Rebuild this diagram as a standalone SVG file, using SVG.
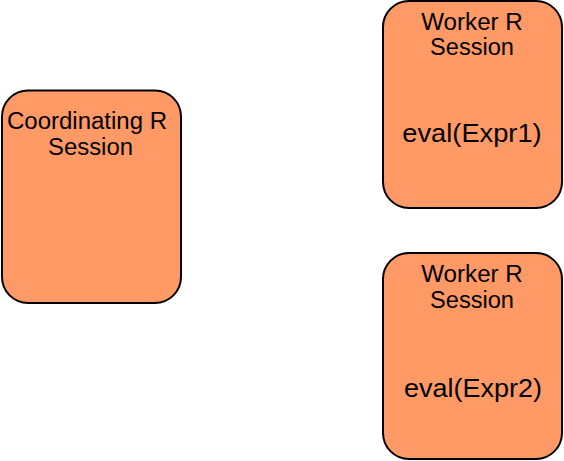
<svg xmlns="http://www.w3.org/2000/svg" width="564" height="461" viewBox="0 0 564 461">
<style>
.box{fill:#ff9966;stroke:#000;stroke-width:2}
.t{font-family:"Liberation Sans",Arial,sans-serif;font-size:23px;fill:#000;text-anchor:middle}
.e{font-family:"Liberation Sans",Arial,sans-serif;font-size:26px;fill:#000;text-anchor:middle}
</style>
<rect width="564" height="461" fill="#fff"/>
<g id="coord">
<rect class="box" x="2" y="90.5" width="179" height="212.5" rx="26" ry="26"/>
<text class="t" x="87" y="129" textLength="160" lengthAdjust="spacingAndGlyphs">Coordinating R</text>
<text class="t" x="90.5" y="154.5" textLength="85" lengthAdjust="spacingAndGlyphs">Session</text>
</g>
<g id="worker1">
<rect class="box" x="383" y="1" width="179" height="207" rx="26" ry="26"/>
<text class="t" x="472" y="30" textLength="101.5" lengthAdjust="spacingAndGlyphs">Worker R</text>
<text class="t" x="472" y="55" textLength="84" lengthAdjust="spacingAndGlyphs">Session</text>
<text class="e" x="472" y="141.8" textLength="139.4" lengthAdjust="spacingAndGlyphs">eval(Expr1)</text>
</g>
<g id="worker2">
<rect class="box" x="383" y="253" width="179" height="206" rx="26" ry="26"/>
<text class="t" x="472" y="282" textLength="101.5" lengthAdjust="spacingAndGlyphs">Worker R</text>
<text class="t" x="472" y="307.5" textLength="84" lengthAdjust="spacingAndGlyphs">Session</text>
<text class="e" x="473" y="396.5" textLength="138" lengthAdjust="spacingAndGlyphs">eval(Expr2)</text>
</g>
<g id="connectors"></g>
</svg>
